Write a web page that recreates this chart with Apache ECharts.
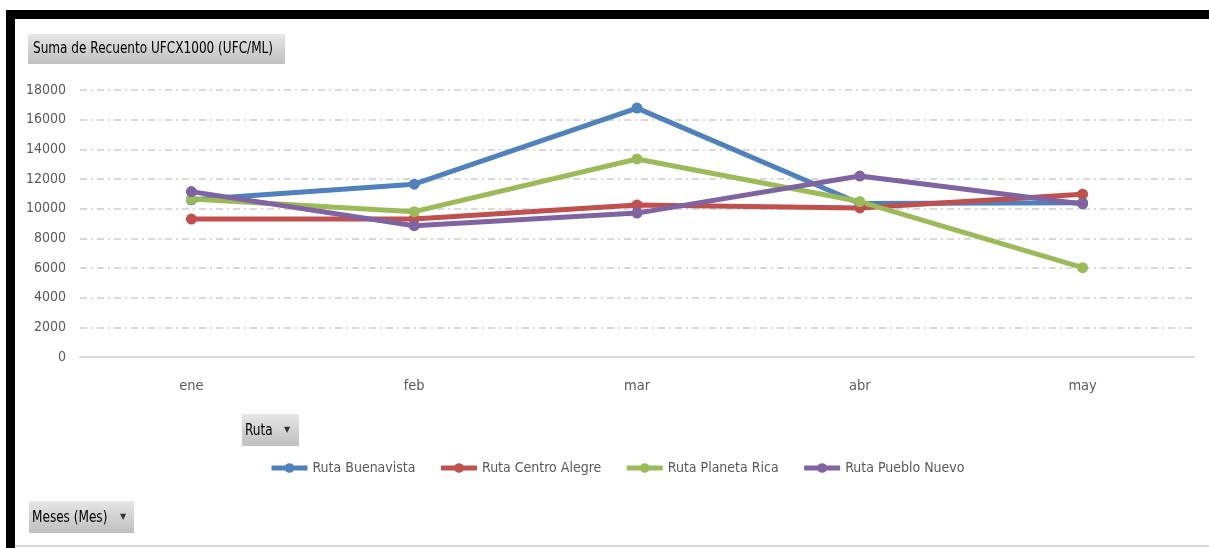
<!DOCTYPE html>
<html>
<head>
<meta charset="utf-8">
<script src="https://cdn.jsdelivr.net/npm/echarts@6/dist/echarts.min.js"></script>
<style>
html,body{margin:0;padding:0;background:#fff;}
#c{width:1209px;height:548px;}
</style>
</head>
<body>
<div id="c"></div>
<script>
const months = ['ene', 'feb', 'mar', 'abr', 'may'];
const seriesNames = ['Ruta Buenavista', 'Ruta Centro Alegre', 'Ruta Planeta Rica', 'Ruta Pueblo Nuevo'];
const buenavista = [10600, 11650, 16780, 10350, 10400];
const centroAlegre = [9300, 9300, 10250, 10050, 10980];
const planetaRica = [10650, 9800, 13350, 10480, 6020];
const puebloNuevo = [11150, 8850, 9700, 12200, 10320];
const colors = ['#4f81bd', '#c0504d', '#9bbb59', '#8064a2'];
const yTicks = { min: 0, max: 18000, interval: 2000 };

const FONT = '"DejaVu Sans Condensed", "DejaVu Sans", sans-serif';
const values = [buenavista, centroAlegre, planetaRica, puebloNuevo];

const chart = echarts.init(document.getElementById('c'), null, { renderer: 'canvas' });

const btnFill = () => new echarts.graphic.LinearGradient(0, 0, 0, 1, [
  { offset: 0, color: '#e6e6e6' },
  { offset: 1, color: '#bfbfbf' }
]);

chart.setOption({
  backgroundColor: '#fff',
  animation: false,
  color: colors,
  grid: { left: 80, right: 15, top: 90, bottom: 191, containLabel: false },
  xAxis: {
    type: 'category',
    data: months,
    boundaryGap: true,
    axisLine: { lineStyle: { color: '#d9d9d9', width: 2 } },
    axisTick: { show: false },
    axisLabel: { color: '#595959', fontFamily: FONT, fontSize: 14.5, margin: 22 },
    splitLine: { show: false }
  },
  yAxis: {
    type: 'value',
    min: yTicks.min, max: yTicks.max, interval: yTicks.interval,
    axisLine: { show: false },
    axisTick: { show: false },
    axisLabel: { color: '#595959', fontFamily: FONT, fontSize: 14, margin: 14, formatter: v => String(v) },
    splitLine: { lineStyle: { color: '#d9d9d9', width: 2, type: [7, 4, 2, 4] } }
  },
  legend: {
    left: 269, top: 461, padding: 0,
    itemWidth: 36, itemHeight: 12, itemGap: 23,
    lineStyle: { width: 5 },
    textStyle: { color: '#595959', fontFamily: FONT, fontSize: 14 },
    data: seriesNames
  },
  series: seriesNames.map((n, i) => ({
    name: n,
    type: 'line',
    data: values[i],
    symbol: 'circle',
    symbolSize: 11,
    lineStyle: { width: 5, color: colors[i] },
    itemStyle: { color: colors[i] }
  })),
  graphic: [
    { type: 'rect', shape: { x: 6, y: 10, width: 1203, height: 9 }, style: { fill: '#000' }, z: 100 },
    { type: 'rect', shape: { x: 6, y: 10, width: 9, height: 538 }, style: { fill: '#000' }, z: 100 },
    { type: 'rect', shape: { x: 15, y: 545, width: 1194, height: 2 }, style: { fill: '#d9d9d9' }, z: 100 },
    { type: 'rect', shape: { x: 28, y: 34, width: 257, height: 30 }, style: { fill: btnFill() }, z: 100 },
    { type: 'text', x: 33, y: 49, scaleX: 0.84, style: { text: 'Suma de Recuento UFCX1000 (UFC/ML)', fill: '#000', font: '16px ' + FONT, textVerticalAlign: 'middle' }, z: 101 },
    { type: 'rect', shape: { x: 242, y: 414, width: 57, height: 32 }, style: { fill: btnFill() }, z: 100 },
    { type: 'text', x: 245, y: 431, scaleX: 0.84, style: { text: 'Ruta', fill: '#000', font: '16px ' + FONT, textVerticalAlign: 'middle' }, z: 101 },
    { type: 'text', x: 284, y: 430, style: { text: '▼', fill: '#333', font: '8px DejaVu Sans', textVerticalAlign: 'middle' }, z: 101 },
    { type: 'rect', shape: { x: 29, y: 501, width: 105, height: 32 }, style: { fill: btnFill() }, z: 100 },
    { type: 'text', x: 32, y: 518, scaleX: 0.84, style: { text: 'Meses (Mes)', fill: '#000', font: '16px ' + FONT, textVerticalAlign: 'middle' }, z: 101 },
    { type: 'text', x: 120, y: 517, style: { text: '▼', fill: '#333', font: '8px DejaVu Sans', textVerticalAlign: 'middle' }, z: 101 }
  ]
});
</script>
</body>
</html>
